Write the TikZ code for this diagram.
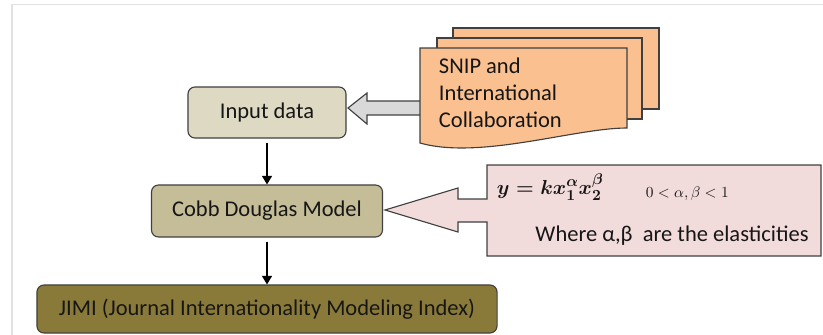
\documentclass[tikz,border=0pt]{standalone}
\usepackage{amsmath, amssymb}
\usepackage{xcolor}
\usepackage{fontspec}
\setmainfont{Carlito}
\usepackage{tikz}
\usetikzlibrary{arrows.meta}

\definecolor{inputtan}{RGB}{221,217,195}
\definecolor{cobbtan}{RGB}{196,189,151}
\definecolor{jimiolive}{RGB}{138,122,58}
\definecolor{docorange}{RGB}{250,192,144}
\definecolor{calloutpink}{RGB}{242,220,219}
\definecolor{arrowgray}{RGB}{217,217,217}
\definecolor{edgegray}{RGB}{64,64,64}
\definecolor{inkdark}{RGB}{22,22,22}
\definecolor{framegray}{RGB}{226,226,226}

\begin{document}
\begin{tikzpicture}[x=0.025cm, y=-0.025cm,
    stepbox/.style={draw=edgegray, line width=0.8pt, rounded corners=5pt,
      text=inkdark, font=\fontsize{16}{19}\selectfont, inner sep=0pt},
    flow/.style={line width=1pt, -{Triangle[width=7pt,length=6pt]}, shorten <=3pt},
    docpage/.style={draw=edgegray, line width=0.8pt, fill=docorange},
    blockarrow/.style={draw=edgegray, line width=0.8pt}]
    \useasboundingbox (0,0) rectangle (823,335);

    % faint frame
    \draw[framegray, line width=1pt] (12,335) -- (12,4.5) -- (823,4.5);

    \node[stepbox, fill=inputtan, minimum width=3.95cm, minimum height=1.275cm] (input) at (267,112.5) {Input data};
    \node[stepbox, fill=cobbtan, minimum width=5.775cm, minimum height=1.3cm] (cobb) at (267,211) {Cobb Douglas Model};
    \node[stepbox, fill=jimiolive, minimum width=11.5cm, minimum height=1.2cm] (jimi) at (267,309) {JIMI (Journal Internationality Modeling Index)};

    \draw[flow] (input) -- (cobb);
    \draw[flow] (cobb) -- (jimi);

    % source documents
    \draw[blockarrow, fill=arrowgray] (348,108) -- (367,93) -- (367,101) -- (424,101)
      -- (424,115) -- (367,115) -- (367,124) -- cycle;
    \draw[docpage] (453,28) rectangle (659,109);
    \draw[docpage] (437,38) rectangle (642,119);
    \draw[docpage] (420,143) -- (420,48) -- (627,48) -- (627,128)
      .. controls (575,128) and (480,160) .. cycle;
    \node[anchor=west, align=left, text=inkdark, font=\fontsize{16}{19.2}\selectfont] (snip) at (434,93)
      {SNIP and\\International\\Collaboration};

    % model callout
    \draw[blockarrow, fill=calloutpink] (385,210) -- (458,188) -- (458,199) -- (487,199)
      -- (487,165) -- (821,165) -- (821,256) -- (487,256) -- (487,222) -- (458,222)
      -- (458,232) -- cycle;
    \node[anchor=west, text=inkdark, font=\fontsize{15}{18}\selectfont] (formula) at (492,187)
      {$\boldsymbol{y = kx_1^{\alpha}x_2^{\beta}}$};
    \node[anchor=west, text=inkdark, font=\fontsize{11}{13}\selectfont] (range) at (641,194)
      {$0<\alpha,\beta<1$};
    \node[text=inkdark, font=\fontsize{16}{19}\selectfont] (where) at (672,236)
      {Where α,β\ \ are the elasticities};
  \end{tikzpicture}
\end{document}
